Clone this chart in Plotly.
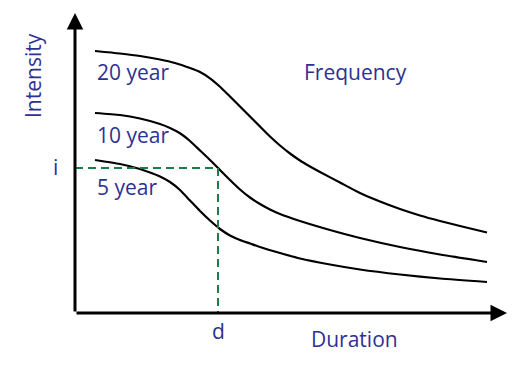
import plotly.graph_objects as go

# ---- data (schematic IDF curves) ----
duration_20yr = [20, 45, 65, 85, 100, 115, 125, 135, 145, 155, 165, 175, 185, 195, 205, 215, 225, 235, 245,
                 265, 285, 305, 325, 345, 365, 385, 412]
intensity_20yr = [262, 259.5, 257, 253.5, 250, 245, 241, 234.7, 226.3, 216.5, 206.5, 196.5, 186.5, 176.5, 167.5,
                  159.5, 152.5, 146.5, 141, 130.5, 120, 111.5, 104, 97.5, 92, 87, 80.5]
duration_10yr = [20, 45, 65, 85, 95, 105, 115, 125, 135, 145, 155, 165, 175, 185, 195, 205, 225, 255, 285, 325, 365, 412]
intensity_10yr = [200, 198, 194.5, 189, 185, 179.7, 172, 162.5, 153, 143, 133, 123.5, 115.5, 109, 103.5, 99, 92, 83,
                  75, 66, 58.5, 51]
duration_5yr = [20, 45, 65, 75, 85, 95, 105, 115, 125, 135, 145, 155, 165, 175, 185, 205, 225, 255, 285, 325, 365, 412]
intensity_5yr = [153, 149, 144, 140.5, 136.5, 131, 123, 112.5, 102, 92.5, 84, 77.5, 73, 69.5, 66, 60, 54.5, 48.5,
                 43.5, 38.5, 34.5, 31]
curve_labels = ["20 year", "10 year", "5 year"]
d_value = 143
i_value = 145
x_max = 432
y_max = 300

TEXT = "#2E3192"
GREEN = "#17804A"
FONT = "Open Sans"

fig = go.Figure()
for xs, ys in ((duration_20yr, intensity_20yr), (duration_10yr, intensity_10yr), (duration_5yr, intensity_5yr)):
    fig.add_trace(go.Scatter(x=xs, y=ys, mode="lines",
                             line=dict(color="black", width=2.2, shape="spline", smoothing=0.6),
                             hoverinfo="skip", showlegend=False))

fig.add_trace(go.Scatter(x=[0, d_value, d_value], y=[i_value, i_value, 0], mode="lines",
                         line=dict(color=GREEN, width=2, dash="8px,5px"),
                         hoverinfo="skip", showlegend=False))

# axes with arrows
for (hx, hy) in ((x_max, 0), (0, y_max)):
    fig.add_annotation(x=hx, y=hy, ax=0, ay=0, xref="x", yref="y", axref="x", ayref="y",
                       showarrow=True, arrowhead=2, arrowsize=1.1, arrowwidth=3,
                       arrowcolor="black", text="")

def label(text, x, y, xanchor="center", yanchor="middle", angle=0):
    fig.add_annotation(x=x, y=y, xref="x", yref="y", text=text, showarrow=False,
                       xanchor=xanchor, yanchor=yanchor, textangle=angle,
                       font=dict(family=FONT, size=21, color=TEXT))

label(curve_labels[0], 20, 313 - 72, xanchor="left")
label(curve_labels[1], 20, 313 - 135, xanchor="left")
label(curve_labels[2], 20, 313 - 187, xanchor="left")
label("Frequency", 280, 313 - 72)
label("Duration", 279, 313 - 339)
label("i", -20, 313 - 167)
label("d", d_value, 313 - 331)
label("Intensity", -42, 313 - 76, angle=-90)

fig.update_layout(
    width=531, height=379,
    margin=dict(l=0, r=0, t=0, b=0),
    paper_bgcolor="white", plot_bgcolor="white",
    xaxis=dict(range=[-67, 464], visible=False, fixedrange=True),
    yaxis=dict(range=[-74, 305], visible=False, fixedrange=True),
    showlegend=False,
)
fig.write_html("out.html", config={"displayModeBar": False})
